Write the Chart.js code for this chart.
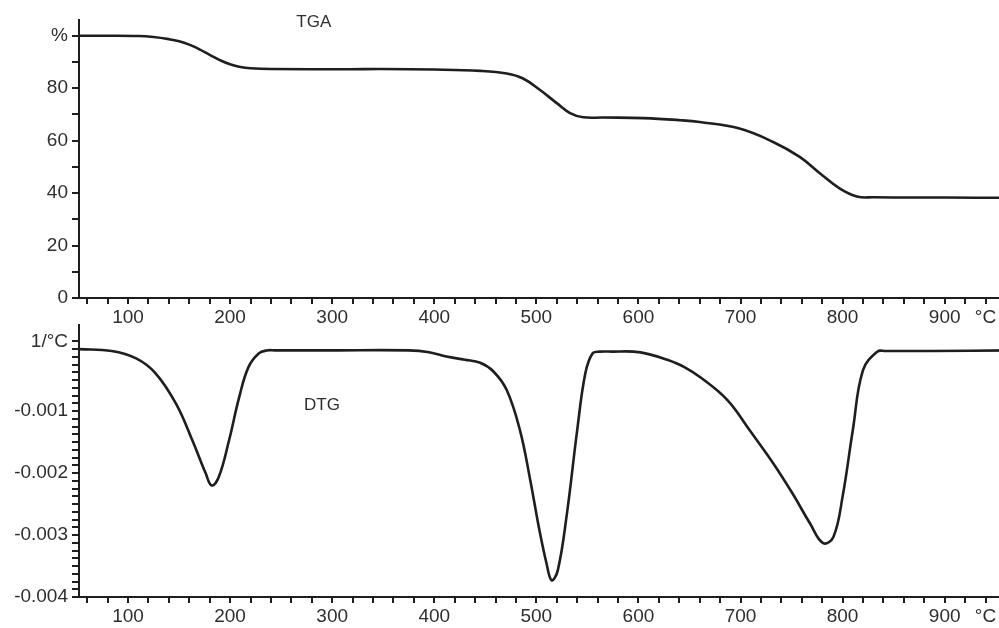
<!DOCTYPE html>
<html>
<head>
<meta charset="utf-8">
<title>TGA / DTG</title>
<script src="https://cdn.jsdelivr.net/npm/chart.js@4/dist/chart.umd.min.js"></script>
<style>
  html, body { margin: 0; padding: 0; background: #fff; overflow: hidden; width: 999px; height: 628px; }
  .wrap { position: relative; width: 999px; height: 628px; overflow: hidden; }
  canvas { position: absolute; left: 0; }
  #tgaChart { top: 0; }
  #dtgChart { top: 300px; }
</style>
</head>
<body>
<div class="wrap">
  <canvas id="tgaChart" width="1010" height="345"></canvas>
  <canvas id="dtgChart" width="1010" height="328"></canvas>
</div>
<script>
// TGA: mass (%) vs temperature (°C)
const tgaTemp = [52, 80, 110, 125, 140, 150, 160, 170, 180, 190, 200, 210, 220, 240, 317, 347, 400, 445, 471, 487, 504, 520, 533, 546, 565, 605, 641, 660, 699, 732, 758, 778, 797, 814, 830, 900, 964];
const tgaMass = [100, 100, 99.9, 99.5, 98.7, 97.9, 96.6, 94.8, 92.7, 90.7, 89.1, 88.1, 87.6, 87.3, 87.2, 87.3, 87.1, 86.6, 85.6, 83.7, 79.2, 74.3, 70.5, 68.9, 68.8, 68.6, 67.8, 67.1, 64.6, 59.5, 53.8, 47.5, 41.8, 38.7, 38.4, 38.3, 38.2];

// DTG: 1/°C vs temperature (°C)
const dtgTemp = [52, 84, 108, 127, 147, 163, 176, 182, 189, 199, 209, 218, 228, 236, 244, 300, 375, 395, 412, 430, 445, 458, 471, 484, 494, 503, 510, 515, 521, 530, 540, 548, 555, 562, 575, 595, 610, 628, 645, 662, 687, 709, 732, 751, 768, 781, 791, 800, 810, 820, 834, 842, 888, 964];
const dtgRate = [0, -0.00003, -0.00015, -0.00039, -0.00088, -0.00147, -0.0020, -0.0022, -0.00206, -0.00147, -0.00077, -0.00029, -0.00007, -0.00002, -0.00002, -0.00002, -0.00002, -0.00005, -0.00012, -0.00017, -0.00022, -0.00036, -0.00066, -0.00131, -0.00211, -0.00292, -0.00346, -0.00373, -0.00357, -0.00265, -0.00131, -0.00039, -0.00007, -0.00004, -0.00004, -0.00004, -0.00008, -0.00017, -0.00029, -0.00047, -0.00082, -0.00131, -0.00184, -0.00233, -0.00281, -0.00313, -0.00303, -0.00238, -0.00131, -0.00034, -0.00004, -0.00003, -0.00003, -0.00002];

// tick positions
const tempTicks = [];
for (let t = 60; t <= 940; t += 20) tempTicks.push(t);
const massTicks = [0, 10, 20, 30, 40, 50, 60, 70, 80, 90, 100];
const rateTicks = [];
for (let k = -32; k <= 1; k++) rateTicks.push(k * 0.000125);

const ink = '#1e1e1e';
const textCol = '#2e2e2e';
const fontFam = '"Liberation Sans", Arial, Helvetica, sans-serif';

function tempLabel(v) {
    if (v === 940) return '°C';
    if (v % 100 === 0 && v <= 900) return String(v);
    return '';
}

function xAxis(h) {
    return {
        type: 'linear', min: 52, max: 964,
        afterBuildTicks: s => { s.ticks = tempTicks.map(v => ({ value: v })); },
        afterFit: s => { s.height = h; },
        ticks: { autoSkip: false, maxRotation: 0, padding: 2, color: textCol, font: { family: fontFam, size: 19 }, callback: tempLabel },
        grid: { drawOnChartArea: false, drawTicks: true, tickLength: 6, color: ink, lineWidth: 2 },
        border: { display: true, color: ink, width: 2 }
    };
}

// text labels inside plot (TGA / DTG)
const panelLabel = {
    id: 'panelLabel',
    afterDraw(chart, args, opts) {
        const ctx = chart.ctx;
        ctx.save();
        ctx.fillStyle = textCol;
        ctx.font = '17px ' + fontFam;
        ctx.textAlign = 'center';
        ctx.textBaseline = 'middle';
        ctx.fillText(opts.text, chart.scales.x.getPixelForValue(opts.x), chart.scales.y.getPixelForValue(opts.y));
        ctx.restore();
    }
};

new Chart(document.getElementById('tgaChart'), {
    type: 'line',
    data: {
        datasets: [{
            label: 'TGA',
            data: tgaTemp.map((t, i) => ({ x: t, y: tgaMass[i] })),
            borderColor: ink, borderWidth: 2.6, pointRadius: 0,
            tension: 0.4, fill: false
        }]
    },
    options: {
        responsive: false, animation: false,
        layout: { padding: { top: 20, left: 0, right: 0, bottom: 0 } },
        plugins: { legend: { display: false }, tooltip: { enabled: false }, panelLabel: { text: 'TGA', x: 282, y: 105 } },
        scales: {
            x: xAxis(47),
            y: {
                min: 0, max: 106,
                afterBuildTicks: s => { s.ticks = massTicks.map(v => ({ value: v })); },
                afterFit: s => { s.width = 79; },
                ticks: { autoSkip: false, padding: 4, color: textCol, font: { family: fontFam, size: 19 },
                    callback: v => v === 100 ? '%' : (v % 20 === 0 ? String(v) : '') },
                grid: { drawOnChartArea: false, drawTicks: true, tickLength: 7, color: ink, lineWidth: 2 },
                border: { display: true, color: ink, width: 2 }
            }
        }
    },
    plugins: [panelLabel]
});

new Chart(document.getElementById('dtgChart'), {
    type: 'line',
    data: {
        datasets: [{
            label: 'DTG',
            data: dtgTemp.map((t, i) => ({ x: t, y: dtgRate[i] })),
            borderColor: ink, borderWidth: 2.6, pointRadius: 0,
            tension: 0.4, fill: false
        }]
    },
    options: {
        responsive: false, animation: false,
        layout: { padding: { top: 25, left: 0, right: 0, bottom: 0 } },
        plugins: { legend: { display: false }, tooltip: { enabled: false }, panelLabel: { text: 'DTG', x: 290, y: -0.0009 } },
        scales: {
            x: xAxis(31),
            y: {
                min: -0.004, max: 0.00039,
                afterBuildTicks: s => { s.ticks = rateTicks.map(v => ({ value: v })); },
                afterFit: s => { s.width = 79; },
                ticks: { autoSkip: false, padding: 4, color: textCol, font: { family: fontFam, size: 19 },
                    callback: v => {
                        if (Math.abs(v - 0.000125) < 1e-9) return '1/°C';
                        const k = Math.round(v / 0.001);
                        if (k < 0 && Math.abs(v - k * 0.001) < 1e-9) return (k * 0.001).toFixed(3);
                        return '';
                    } },
                grid: { drawOnChartArea: false, drawTicks: true, tickLength: 7, color: ink, lineWidth: 2 },
                border: { display: true, color: ink, width: 2 }
            }
        }
    },
    plugins: [panelLabel]
});
</script>
</body>
</html>
